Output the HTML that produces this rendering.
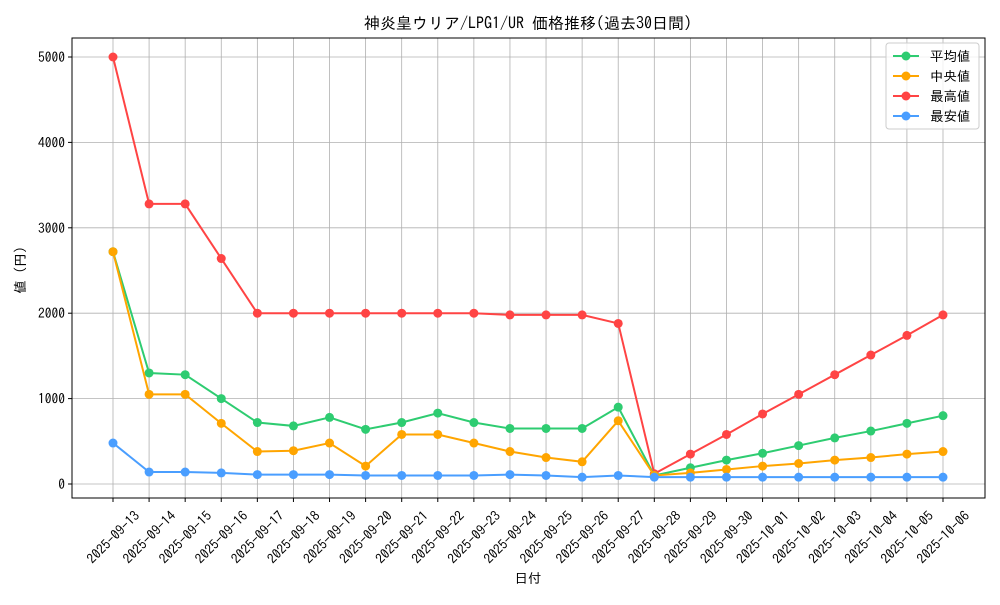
<!DOCTYPE html>
<html><head><meta charset="utf-8"><style>
body{margin:0;background:#fff;}
svg text{font-family:"IPAGothic","Noto Sans CJK JP",sans-serif;fill:#000;}
</style></head><body>
<svg id="s" width="1000" height="600" xmlns="http://www.w3.org/2000/svg"></svg>
<script>
const s=document.getElementById('s');
const L=72,R=985,T=38,B=498;
const x0=113,dx=(943-113)/23;
const yv=v=>484-v*0.0854;
const dates=[];
let d=new Date(Date.UTC(2025,8,13));
for(let i=0;i<24;i++){dates.push(d.toISOString().slice(0,10));d=new Date(d.getTime()+86400000);}
let h='';
for(let i=0;i<24;i++){const x=x0+i*dx;h+=`<line x1="${x}" y1="${T}" x2="${x}" y2="${B}" stroke="#b0b0b0" stroke-width="0.8"/>`;
h+=`<line x1="${x}" y1="${B}" x2="${x}" y2="${B+4}" stroke="#000"/>`;
h+=`<text transform="translate(${x},${537}) rotate(-45)" text-anchor="middle" y="5" font-size="13.5">${dates[i]}</text>`;}
for(let v=0;v<=5000;v+=1000){const y=yv(v);h+=`<line x1="${L}" y1="${y}" x2="${R}" y2="${y}" stroke="#b0b0b0" stroke-width="0.8"/>`;
h+=`<line x1="${L-4}" y1="${y}" x2="${L}" y2="${y}" stroke="#000"/>`;
h+=`<text x="${L-7}" y="${y+5}" text-anchor="end" font-size="13.5">${v}</text>`;}
const ser=[
["#ff4444",[5000,3280,3280,2640,2000,2000,2000,2000,2000,2000,2000,1980,1980,1980,1880,120,350,580,820,1050,1280,1510,1740,1980]],
["#2ecc71",[2720,1300,1280,1000,720,680,780,640,720,830,720,650,650,650,900,100,190,280,360,450,540,620,710,800]],
["#ffa500",[2720,1050,1050,710,380,390,480,210,580,580,480,380,310,260,740,100,130,170,210,240,280,310,350,380]],
["#4a9eff",[480,140,140,130,110,110,110,100,100,100,100,110,100,80,100,80,80,80,80,80,80,80,80,80]]];
for(const [c,a] of ser){h+=`<polyline fill="none" stroke="${c}" stroke-width="2" points="${a.map((v,i)=>(x0+i*dx)+','+yv(v)).join(' ')}"/>`;
a.forEach((v,i)=>h+=`<circle cx="${x0+i*dx}" cy="${yv(v)}" r="4.5" fill="${c}"/>`);}
h+=`<rect x="${L}" y="${T}" width="${R-L}" height="${B-T}" fill="none" stroke="#000" stroke-width="1"/>`;
h+=`<text x="528" y="29" text-anchor="middle" font-size="16">神炎皇ウリア/LPG1/UR 価格推移(過去30日間)</text>`;
h+=`<text x="528" y="583" text-anchor="middle" font-size="13.5">日付</text>`;
h+=`<text transform="translate(25,270) rotate(-90)" text-anchor="middle" font-size="13.5">値 (円)</text>`;
h+=`<rect x="886" y="43" width="93" height="86" rx="3" fill="#fff" fill-opacity="0.8" stroke="#ccc"/>`;
const lg=[["#2ecc71","平均値"],["#ffa500","中央値"],["#ff4444","最高値"],["#4a9eff","最安値"]];
lg.forEach(([c,t],i)=>{const y=56+i*20;h+=`<line x1="893" y1="${y}" x2="919" y2="${y}" stroke="${c}" stroke-width="2"/><circle cx="906" cy="${y}" r="4.5" fill="${c}"/><text x="930" y="${y+5}" font-size="13.5">${t}</text>`;});
s.innerHTML=h;
</script>
</body></html>
